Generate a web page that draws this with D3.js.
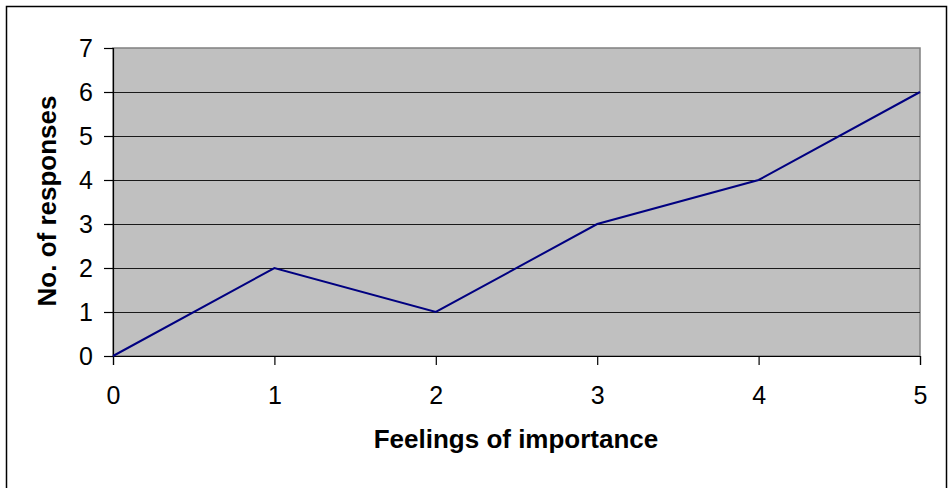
<!DOCTYPE html>
<html>
<head>
<meta charset="utf-8">
<script src="https://cdn.jsdelivr.net/npm/d3@7"></script>
<style>
  html, body { margin: 0; padding: 0; background: #fff; }
  svg { display: block; font-family: "Liberation Sans", Arial, sans-serif; }
</style>
</head>
<body>
<svg id="chart" width="949" height="488"></svg>
<script>
// Responses per level of "feelings of importance"
const levels = [0, 1, 2, 3, 4, 5];
const responses = [0, 2, 1, 3, 4, 6];
const yTicks = [0, 1, 2, 3, 4, 5, 6, 7];
const xTitle = "Feelings of importance";
const yTitle = "No. of responses";

const svg = d3.select("#chart");
const plot = { left: 113, right: 920, top: 48, bottom: 356 };

const x = d3.scaleLinear().domain([0, 5]).range([plot.left, plot.right]);
const y = d3.scaleLinear().domain([0, 7]).range([plot.bottom, plot.top]);

// outer frame
svg.append("rect")
  .attr("x", 6.5).attr("y", 6.5)
  .attr("width", 940).attr("height", 520)
  .attr("fill", "none").attr("stroke", "#000").attr("stroke-width", 1.5);

// plot background
svg.append("rect")
  .attr("x", plot.left).attr("y", plot.top)
  .attr("width", plot.right - plot.left).attr("height", plot.bottom - plot.top)
  .attr("fill", "#c0c0c0").attr("stroke", "#808080").attr("stroke-width", 1.5);

// horizontal gridlines
svg.append("g")
  .selectAll("line")
  .data(yTicks.filter(d => d > 0 && d < 7))
  .join("line")
  .attr("x1", plot.left).attr("x2", plot.right)
  .attr("y1", d => Math.round(y(d)) + 0.5).attr("y2", d => Math.round(y(d)) + 0.5)
  .attr("stroke", "#1a1a1a").attr("stroke-width", 1.2);

// y axis
const yAxis = svg.append("g")
  .attr("transform", `translate(${plot.left},0)`)
  .call(d3.axisLeft(y).tickValues(yTicks).tickFormat(d3.format("d")).tickSize(9).tickPadding(11));
yAxis.select(".domain").attr("stroke", "#000").attr("stroke-width", 1.2);
yAxis.selectAll(".tick line").attr("stroke", "#000").attr("stroke-width", 1.2);
yAxis.selectAll("text").attr("font-size", 25).attr("fill", "#000")
  .attr("font-family", "Liberation Sans, Arial, sans-serif");

// x axis
const xAxis = svg.append("g")
  .attr("transform", `translate(0,${plot.bottom})`)
  .call(d3.axisBottom(x).tickValues(levels).tickFormat(d3.format("d")).tickSize(9).tickPadding(21));
xAxis.select(".domain").attr("stroke", "#000").attr("stroke-width", 1.2);
xAxis.selectAll(".tick line").attr("stroke", "#000").attr("stroke-width", 1.2);
xAxis.selectAll("text").attr("font-size", 25).attr("fill", "#000")
  .attr("font-family", "Liberation Sans, Arial, sans-serif");

// series line
svg.append("path")
  .datum(levels.map((l, i) => [l, responses[i]]))
  .attr("fill", "none")
  .attr("stroke", "#000080")
  .attr("stroke-width", 2)
  .attr("d", d3.line().x(d => x(d[0])).y(d => y(d[1])));

// axis titles
svg.append("text")
  .attr("x", 516)
  .attr("y", 448)
  .attr("text-anchor", "middle")
  .attr("font-size", 26).attr("font-weight", "bold")
  .text(xTitle);

svg.append("text")
  .attr("transform", `translate(56,201) rotate(-90)`)
  .attr("text-anchor", "middle")
  .attr("font-size", 26).attr("font-weight", "bold")
  .text(yTitle);
</script>
</body>
</html>
